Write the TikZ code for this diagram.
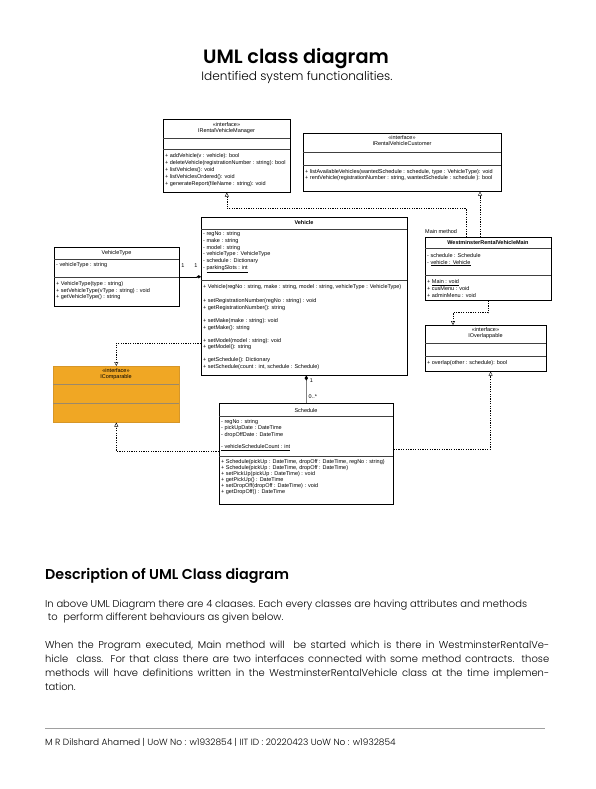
\documentclass[tikz,border=0pt]{standalone}
\usepackage{fontspec}
\setmainfont{Poppins}[UprightFont={* Light}, BoldFont={* SemiBold}]
\newfontfamily\umlfont{Liberation Sans}
\usetikzlibrary{arrows.meta, positioning, calc, shadows}
\definecolor{ifaceorange}{RGB}{240,167,36}
\definecolor{ifaceedge}{RGB}{214,150,40}
\definecolor{footgray}{RGB}{160,160,160}

\tikzset{
	classbox/.style={draw=black, line width=0.6pt, fill=white, inner sep=0pt, anchor=north west},
	boxshadow/.style={drop shadow={shadow xshift=0.9pt, shadow yshift=-0.9pt, opacity=0.55, fill=gray}},
	sepline/.style={line width=0.4pt, draw=black!75},
	umltxt/.style={font=\umlfont\fontsize{5.5}{#1}\selectfont, inner sep=0pt, align=left, anchor=north west},
	umltxt/.default=6.9,
	umlc/.style={font=\umlfont\fontsize{5.5}{6}\selectfont, inner sep=0pt},
	umlb/.style={font=\umlfont\bfseries\fontsize{5.5}{6}\selectfont, inner sep=0pt},
	realize/.style={line width=0.4pt, dash pattern=on 1.2pt off 1.2pt, -{Triangle[open, length=4pt, width=4pt]}},
	para/.style={font=\fontsize{9.95}{12}\selectfont, inner sep=0pt, anchor=base west}
}

\begin{document}
\begin{tikzpicture}[x=1pt,y=-1pt]
\useasboundingbox (0,0) rectangle (595,789);

% heading
\node[font=\bfseries\fontsize{19.3}{22}\selectfont, anchor=base] (title) at (296,64) {UML class diagram};
\node[font=\fontsize{12.1}{14}\selectfont, anchor=base] (subtitle) at (297,81) {Identified system functionalities.};

% IRentalVehicleManager
\node[classbox, boxshadow, minimum width=127pt, minimum height=73pt] (mgr) at (163,119) {};
\node[umlc] (mgr-st) at (226.5,125) {«interface»};
\node[umlc] (mgr-name) at (226.5,131.5) {IRentalVehicleManager};
\draw[sepline] (163,138) -- (290,138);
\draw[sepline] (163,149) -- (290,149);
\node[umltxt] (mgr-ops) at (165,153.3) {+ addVehicle(v : vehicle): bool\\+ deleteVehicle(registrationNumber : string): bool\\+ listVehicles(): void\\+ listVehiclesOrdered(): void\\+ generateReport(fileName : string): void};

% IRentalVehicleCustomer
\node[classbox, boxshadow, minimum width=198pt, minimum height=58pt] (cust) at (303,133) {};
\node[umlc] (cust-st) at (402,137.5) {«interface»};
\node[umlc] (cust-name) at (402,144) {IRentalVehicleCustomer};
\draw[sepline] (303,152) -- (501,152);
\draw[sepline] (303,165) -- (501,165);
\node[umltxt=6] (cust-ops) at (305,169.3) {+ listAvailableVehicles(wantedSchedule : schedule, type : VehicleType): void\\+ rentVehicle(registrationNumber : string, wantedSchedule : schedule ): bool};

% Vehicle
\node[classbox, boxshadow, minimum width=206pt, minimum height=158pt] (veh) at (201,217) {};
\node[umlb] (veh-name) at (304,222.5) {Vehicle};
\draw[sepline] (201,229) -- (407,229);
\node[umltxt=6.8] (veh-attr) at (203,231.3) {- regNo : string\\- make : string\\- model : string\\- vehicleType : VehicleType\\- schedule : Dictionary\\- \underline{parkingSlots : int}};
\draw[sepline] (201,280) -- (407,280);
\node[umltxt=6.8] (veh-ops) at (203,284.3) {+ Vehicle(regNo : string, make : string, model : string, vehicleType : VehicleType)\\[7.2pt]+ setRegistrationNumber(regNo : string) : void\\+ getRegistrationNumber(): string\\[6.2pt]+ setMake(make : string): void\\+ getMake(): string\\[6.2pt]+ setModel(model : string): void\\+ getModel(): string\\[6.2pt]+ getSchedule(): Dictionary\\+ setSchedule(count : int, schedule : Schedule)};

% VehicleType
\node[classbox, boxshadow, minimum width=125pt, minimum height=59pt] (vtype) at (54,247) {};
\node[umlc] (vtype-name) at (116.5,253) {VehicleType};
\draw[sepline] (54,259) -- (179,259);
\node[umltxt] (vtype-attr) at (56,262.3) {- vehicleType : string};
\draw[sepline] (54,277) -- (179,277);
\node[umltxt=6.6] (vtype-ops) at (56,281.3) {+ VehicleType(type : string)\\+ setVehicleType(vType : string) : void\\+ getVehicleType() : string};

% WestminsterRentalVehicleMain
\node[umlc, anchor=west] (main-note) at (425,231.5) {Main method};
\node[classbox, boxshadow, minimum width=126pt, minimum height=63pt] (main) at (425,237) {};
\node[umlb] (main-name) at (488,242.5) {WestminsterRentalVehicleMain};
\draw[sepline] (425,248.5) -- (551,248.5);
\node[umltxt=6.6] (main-attr) at (427,253.3) {- schedule : Schedule\\- \underline{vehicle : Vehicle}};
\draw[sepline] (425,275.5) -- (551,275.5);
\node[umltxt=6.7] (main-ops) at (427,279.6) {+ \underline{Main : void}\\+ cusMenu : void\\+ adminMenu : void};

% IOverlappable
\node[classbox, boxshadow, minimum width=121pt, minimum height=46pt] (overl) at (425,325) {};
\node[umlc] (overl-st) at (485.5,329.5) {«interface»};
\node[umlc] (overl-name) at (485.5,336) {IOverlappable};
\draw[sepline] (425,343) -- (546,343);
\draw[sepline] (425,356) -- (546,356);
\node[umltxt] (overl-ops) at (427,360.3) {+ overlap(other : schedule): bool};

% IComparable
\node[classbox, draw=ifaceedge, fill=ifaceorange, minimum width=126pt, minimum height=56pt] (comp) at (53,366) {};
\node[umlc] (comp-st) at (116,371) {«interface»};
\node[umlc] (comp-name) at (116,377.5) {IComparable};
\draw[line width=0.6pt, draw=gray!75!ifaceorange] (53,384.5) -- (179,384.5);
\draw[line width=0.6pt, draw=gray!75!ifaceorange] (53,403.5) -- (179,403.5);

% Schedule
\node[classbox, minimum width=174pt, minimum height=101pt] (sched) at (219,403) {};
\node[umlc] (sched-name) at (306,410.5) {Schedule};
\draw[sepline] (219,416) -- (393,416);
\node[umltxt=6.5] (sched-attr) at (221,419.3) {- regNo : string\\- pickUpDate : DateTime\\- dropOffDate : DateTime\\[5.5pt]\underline{- vehicleScheduleCount : int}};
\draw[sepline] (219,456.5) -- (393,456.5);
\node[umltxt=5.9] (sched-ops) at (221,459.8) {+ Schedule(pickUp : DateTime, dropOff : DateTime, regNo : string)\\+ Schedule(pickUp : DateTime, dropOff : DateTime)\\+ setPickUp(pickUp : DateTime) : void\\+ getPickUp() : DateTime\\+ setDropOff(dropOff : DateTime) : void\\+ getDropOff() : DateTime};

% relations
\draw[realize] ([xshift=41pt]main.north west) |- ($(mgr.south)+(0,16)$) -- (mgr.south);
\draw[realize] ([xshift=55pt]main.north west) -- ([xshift=55pt]main.north west |- cust.south);
\draw[realize] (main.south) -- ++(0,12) -| ([xshift=28pt]overl.north west);
\draw[realize] ([yshift=-126pt]veh.north west) -| (comp.north);
\draw[realize] ([yshift=-48pt]sched.north west) -| (comp.south);
\draw[realize] ([yshift=-46pt]sched.north east) -| ([xshift=-56pt]overl.south east);
\draw[line width=0.5pt, -{Diamond[length=4.5pt, width=3.2pt]}] (vtype.east) -- (vtype.east -| veh.west);
\draw[line width=1.6pt, draw=gray, -{Diamond[length=5pt, width=3.6pt, color=black]}] (sched.north) -- (sched.north |- veh.south);
\node[umlc] (vt-m1) at (183,266) {1};
\node[umlc] (vt-m2) at (196,266) {1};
\node[umlc] (sc-m1) at (311.5,381) {1};
\node[umlc, anchor=west] (sc-m2) at (308.5,397) {0..*};

% description
\node[font=\bfseries\fontsize{14.3}{17}\selectfont, anchor=base west, inner sep=0pt] (desc) at (45,579) {Description of UML Class diagram};
\node[para] (p1) at (45,607) {In above UML Diagram there are 4 claases. Each every classes are having attributes and methods};
\node[para] (p2) at (45,620) {\ to\ \ perform different behaviours as given below.};
\node[para] (p3) at (45,648) {\makebox[504pt][s]{When the Program executed, Main method will\ \ be started which is there in WestminsterRentalVe-}};
\node[para] (p4) at (45,662) {\makebox[504pt][s]{hicle\ \ class. For that class there are two interfaces connected with some method contracts. those}};
\node[para] (p5) at (45,676) {\makebox[504pt][s]{methods will have definitions written in the WestminsterRentalVehicle class at the time implemen-}};
\node[para] (p6) at (45,690) {tation.};

% footer
\draw[line width=0.5pt, draw=footgray] (45,728) -- (545,728);
\node[font=\fontsize{9}{11}\selectfont, anchor=base west, inner sep=0pt] (foot) at (45,745) {M R Dilshard Ahamed | UoW No : w1932854 | IIT ID : 20220423 UoW No : w1932854};
\end{tikzpicture}
\end{document}
